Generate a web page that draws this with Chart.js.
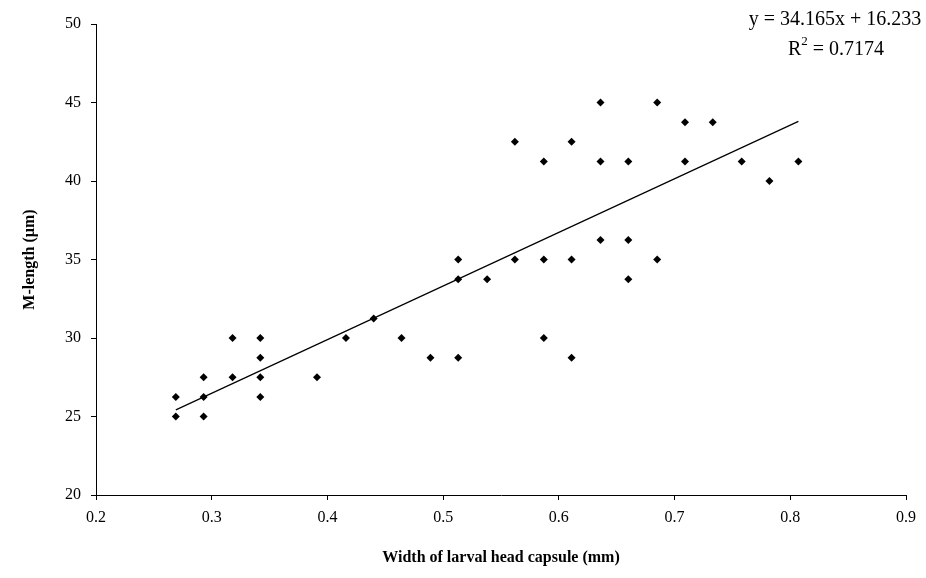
<!DOCTYPE html>
<html lang="en-US">
	<head>
		<meta charset="utf-8" />
		<title>M-length vs head capsule width</title>
		<script src="https://cdn.jsdelivr.net/npm/chart.js@4"></script>
		<style>
			body { margin: 0; background: #fff; }
			#wrap { width: 926px; height: 578px; }
		</style>
	</head>
	<body>
		<div id="wrap"><canvas id="chart"></canvas></div>
		<script>
			// head capsule width (mm) and M-length (um)
			const widths = [
				0.269, 0.269,
				0.293, 0.293, 0.293,
				0.318, 0.318,
				0.342, 0.342, 0.342, 0.342,
				0.391, 0.416, 0.440, 0.464, 0.489,
				0.513, 0.513, 0.513,
				0.538,
				0.562, 0.562,
				0.587, 0.587, 0.587,
				0.611, 0.611, 0.611,
				0.636, 0.636, 0.636,
				0.660, 0.660, 0.660,
				0.685, 0.685,
				0.709, 0.709,
				0.733, 0.758, 0.782, 0.807,
			];
			const mLengths = [
				26.25, 25,
				27.5, 26.25, 25,
				30, 27.5,
				30, 28.75, 27.5, 26.25,
				27.5, 30, 31.25, 30, 28.75,
				35, 33.75, 28.75,
				33.75,
				42.5, 35,
				41.25, 35, 30,
				42.5, 35, 28.75,
				45, 41.25, 36.25,
				41.25, 36.25, 33.75,
				45, 35,
				43.75, 41.25,
				43.75, 41.25, 40, 41.25,
			];
			// trend line ends as drawn
			const trendX = [0.269, 0.807];
			const trendY = [25.42, 43.80];
			const equationLines = ["y = 34.165x + 16.233", "R", "2", " = 0.7174"];

			const serif = "'Liberation Serif', 'Times New Roman', serif";

			const equationPlugin = {
				id: "equation",
				afterDraw(chart) {
					const ctx = chart.ctx;
					ctx.save();
					ctx.fillStyle = "#000";
					ctx.textBaseline = "alphabetic";
					ctx.font = "20px " + serif;
					ctx.textAlign = "center";
					ctx.fillText(equationLines[0], 835, 25);
					// second line with superscript 2
					const big = "20px " + serif;
					const small = "13px " + serif;
					ctx.font = big;
					const wR = ctx.measureText(equationLines[1]).width;
					const wRest = ctx.measureText(equationLines[3]).width;
					ctx.font = small;
					const w2 = ctx.measureText(equationLines[2]).width;
					let x = 836 - (wR + w2 + wRest) / 2;
					ctx.textAlign = "left";
					ctx.font = big;
					ctx.fillText(equationLines[1], x, 55);
					x += wR;
					ctx.font = small;
					ctx.fillText(equationLines[2], x, 45);
					x += w2;
					ctx.font = big;
					ctx.fillText(equationLines[3], x, 55);
					ctx.restore();
				},
			};

			const points = widths.map((w, i) => ({ x: w, y: mLengths[i] }));
			const trend = trendX.map((w, i) => ({ x: w, y: trendY[i] }));

			new Chart(document.getElementById("chart"), {
				type: "scatter",
				data: {
					datasets: [
						{
							data: points,
							pointStyle: "rectRot",
							pointRadius: 4,
							backgroundColor: "#000",
							borderColor: "#000",
							borderWidth: 0,
						},
						{
							type: "line",
							data: trend,
							borderColor: "#000",
							borderWidth: 1.2,
							pointRadius: 0,
							fill: false,
						},
					],
				},
				options: {
					responsive: true,
					maintainAspectRatio: false,
					animation: false,
					layout: { padding: { top: 24, right: 20, left: 0, bottom: 0 } },
					plugins: { legend: { display: false }, tooltip: { enabled: false } },
					scales: {
						x: {
							type: "linear",
							min: 0.2,
							max: 0.9,
							afterFit: (s) => { s.height = 83; },
							ticks: {
								stepSize: 0.1,
								color: "#000",
								padding: 8,
								font: { family: serif, size: 16 },
								callback: (v) => v.toFixed(1),
							},
							grid: { drawOnChartArea: false, color: "#000", tickLength: 5 },
							border: { color: "#000", width: 1 },
							title: {
								display: true,
								text: "Width of larval head capsule (mm)",
								color: "#000",
								font: { family: serif, size: 16, weight: "bold" },
								padding: { top: 0, bottom: 11 },
							},
						},
						y: {
							min: 20,
							max: 50,
							afterFit: (s) => { s.width = 96; },
							ticks: {
								stepSize: 5,
								color: "#000",
								padding: 10,
								font: { family: serif, size: 16 },
							},
							grid: { drawOnChartArea: false, color: "#000", tickLength: 5 },
							border: { color: "#000", width: 1 },
							title: {
								display: true,
								text: "M-length (µm)",
								color: "#000",
								font: { family: serif, size: 16, weight: "bold" },
								padding: { top: 20, bottom: 0 },
							},
						},
					},
				},
				plugins: [equationPlugin],
			});
		</script>
	</body>
</html>
